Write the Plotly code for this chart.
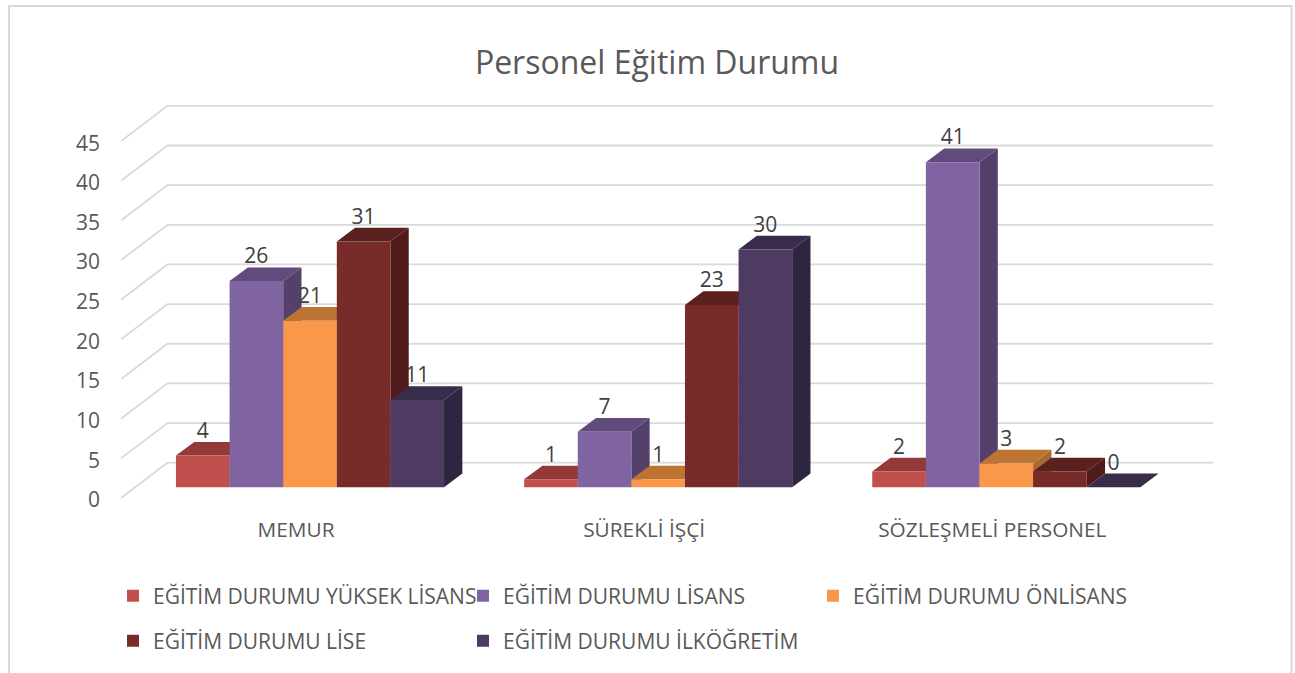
import plotly.graph_objects as go

categories = ["MEMUR", "SÜREKLİ İŞÇİ", "SÖZLEŞMELİ PERSONEL"]
series_names = ["EĞİTİM DURUMU YÜKSEK LİSANS", "EĞİTİM DURUMU LİSANS", "EĞİTİM DURUMU ÖNLİSANS",
                "EĞİTİM DURUMU LİSE", "EĞİTİM DURUMU İLKÖĞRETİM"]
yuksek_lisans = [4, 1, 2]
lisans = [26, 7, 41]
onlisans = [21, 1, 3]
lise = [31, 23, 2]
ilkogretim = [11, 30, 0]
y_ticks = [0, 5, 10, 15, 20, 25, 30, 35, 40, 45]

front_colors = ["#C0504D", "#8064A2", "#F9974A", "#772C2A", "#4D3B62"]
top_colors = ["#913A38", "#614B7C", "#BD7332", "#5A211F", "#392C4A"]
side_colors = ["#7F3230", "#53406B", "#A76A32", "#4F1C1A", "#2E2540"]

W, H = 1295, 673
TEXT = "#595959"
FONT = "Open Sans"
PX_CAT = 348.15
PX_UNIT = 7.93
LEFT, RIGHT, BOTTOM, TOP = 121, 1213, 500, 95
GRID_FRONT = 498
X0_MAIN = 296
X0_BAR = 310
Y0_BAR = 487.3

all_series = [yuksek_lisans, lisans, onlisans, lise, ilkogretim]
xs = list(range(len(categories)))
x_shift = (X0_BAR - X0_MAIN) / PX_CAT
y_shift = (BOTTOM - Y0_BAR) / PX_UNIT
grid_shift = (BOTTOM - GRID_FRONT) / PX_UNIT
wall_dx, wall_dy = 46.5 / PX_CAT, 35.3 / PX_UNIT
bar_dx, bar_dy = 18.3 / PX_CAT, 13.7 / PX_UNIT
group_w = 0.77
bar_w = group_w / len(all_series)

main_x = [(LEFT - X0_MAIN) / PX_CAT, (RIGHT - X0_MAIN) / PX_CAT]
bar_x = [(LEFT - X0_BAR) / PX_CAT, (RIGHT - X0_BAR) / PX_CAT]
main_y = [0, (BOTTOM - TOP) / PX_UNIT]
bar_y = [-y_shift, main_y[1] - y_shift]

fig = go.Figure()

# grid: front-edge diagonal then back-wall line, derived from the axis ticks
gx, gy = [], []
for t in y_ticks:
    gx += [main_x[0], main_x[0] + wall_dx, main_x[1], None]
    gy += [t + grid_shift, t + grid_shift + wall_dy, t + grid_shift + wall_dy, None]
fig.add_trace(go.Scatter(x=gx, y=gy, mode="lines", line=dict(color="#D9D9D9", width=1.8),
                         showlegend=False, hoverinfo="skip"))

# depth faces (below the bars' front faces)
for s, values in enumerate(all_series):
    tx, ty, sx, sy = [], [], [], []
    for c, v in zip(xs, values):
        L = c - group_w / 2 + s * bar_w + x_shift
        R = L + bar_w
        yv = v + y_shift
        yb = y_shift
        tx += [L, R, R + bar_dx, L + bar_dx, L, None]
        ty += [yv, yv, yv + bar_dy, yv + bar_dy, yv, None]
        sx += [R, R + bar_dx, R + bar_dx, R, R, None]
        sy += [yb, yb + bar_dy, yv + bar_dy, yv, yb, None]
    fig.add_trace(go.Scatter(x=sx, y=sy, mode="lines", fill="toself", fillcolor=side_colors[s],
                             line=dict(width=0, color=side_colors[s]), showlegend=False, hoverinfo="skip"))
    fig.add_trace(go.Scatter(x=tx, y=ty, mode="lines", fill="toself", fillcolor=top_colors[s],
                             line=dict(width=0, color=top_colors[s]), showlegend=False, hoverinfo="skip"))

# front faces
legend_ids = ["legend", "legend", "legend", "legend2", "legend2"]
for s, values in enumerate(all_series):
    fig.add_trace(go.Bar(x=xs, y=values, name=series_names[s], marker=dict(color=front_colors[s], line=dict(width=0)),
                         xaxis="x2", yaxis="y2", legend=legend_ids[s]))

# data labels
for s, values in enumerate(all_series):
    lx = [c - group_w / 2 + (s + 0.5) * bar_w for c in xs]
    fig.add_trace(go.Scatter(x=lx, y=[v + 2.9 for v in values], text=[str(v) for v in values],
                             mode="text", textposition="middle center",
                             textfont=dict(family=FONT, size=21, color="#404040"),
                             xaxis="x2", yaxis="y2", showlegend=False, hoverinfo="skip"))

legend_common = dict(orientation="h", xanchor="left", yanchor="middle", bgcolor="rgba(0,0,0,0)",
                     font=dict(family=FONT, size=21, color=TEXT), entrywidth=305, entrywidthmode="pixels",
                     traceorder="normal")

fig.update_layout(
    width=W, height=H, autosize=False,
    margin=dict(l=0, r=0, t=0, b=0, autoexpand=False),
    paper_bgcolor="white", plot_bgcolor="rgba(0,0,0,0)",
    barmode="group", bargap=1 - group_w, bargroupgap=0,
    title=dict(text="Personel Eğitim Durumu", x=657 / W, xanchor="center", y=1 - 63 / H, yanchor="middle",
               font=dict(family=FONT, size=32, color=TEXT)),
    xaxis=dict(domain=[LEFT / W, RIGHT / W], range=main_x, tickvals=xs, ticktext=categories,
               showgrid=False, zeroline=False, showline=False, ticks="", ticklabelstandoff=15,
               tickfont=dict(family=FONT, size=20.8, color=TEXT)),
    yaxis=dict(domain=[1 - BOTTOM / H, 1 - TOP / H], range=main_y, tickvals=y_ticks,
               showgrid=False, zeroline=False, showline=False, ticks="", ticklabelstandoff=20,
               tickfont=dict(family=FONT, size=21, color=TEXT)),
    xaxis2=dict(domain=[LEFT / W, RIGHT / W], range=bar_x, overlaying="x", anchor="y2", visible=False),
    yaxis2=dict(domain=[1 - BOTTOM / H, 1 - TOP / H], range=bar_y, overlaying="y", anchor="x2", visible=False),
    legend=dict(x=113 / W, y=1 - 596 / H, **legend_common),
    legend2=dict(x=113 / W, y=1 - 641 / H, **legend_common),
    shapes=[dict(type="rect", xref="paper", yref="paper", x0=9 / W, x1=1291.5 / W, y0=-0.02, y1=1 - 6 / H,
                 line=dict(color="#D9D9D9", width=2), fillcolor="rgba(0,0,0,0)", layer="below")],
)
fig.write_html("out.html", config={"displayModeBar": False},
               post_script="document.body.style.margin='0';document.documentElement.style.overflow='hidden';")
